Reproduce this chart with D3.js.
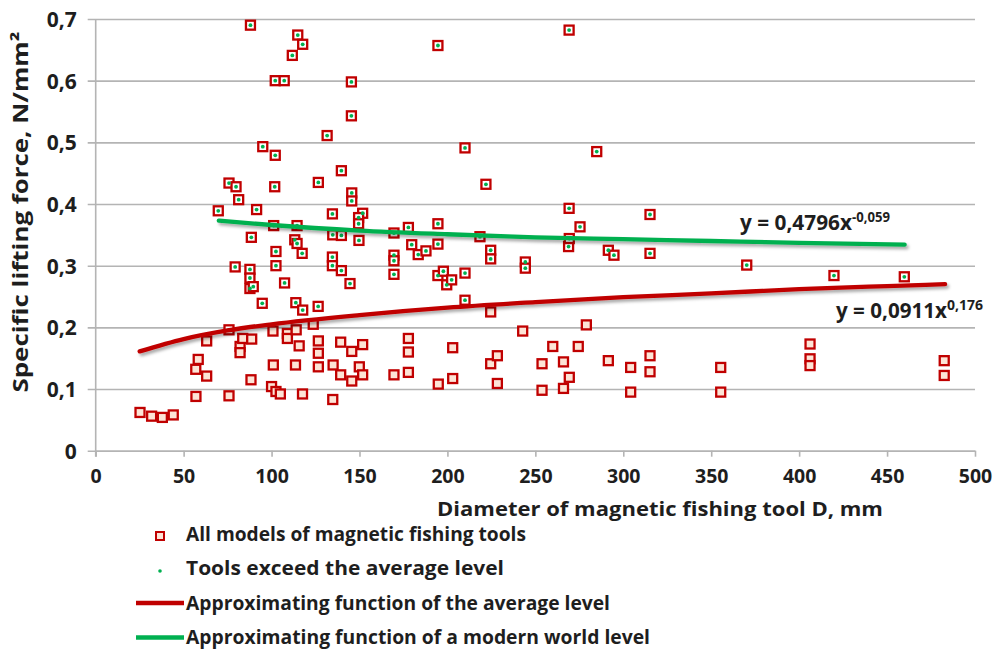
<!DOCTYPE html>
<html>
<head>
<meta charset="utf-8">
<script src="https://cdn.jsdelivr.net/npm/d3@7/dist/d3.min.js"></script>
<style>
  html, body { margin: 0; padding: 0; background: #fff; }
  svg { display: block; font-family: "Open Sans", "Noto Sans", sans-serif; }
  text { fill: #1e1e1e; font-weight: 700; }
</style>
</head>
<body>
<svg id="chart" width="994" height="652"></svg>
<script>
// ---------- data ----------
const xTicks = [0, 50, 100, 150, 200, 250, 300, 350, 400, 450, 500];
const yTicks = [0, 0.1, 0.2, 0.3, 0.4, 0.5, 0.6, 0.7];

// tools whose specific lifting force exceeds the average level (green dot)
const exceedLevel = [
  [88,0.690],[114.9,0.674],[117.7,0.659],[111.8,0.641],[102.1,0.600],[107.2,0.600],
  [145.4,0.598],[145.4,0.543],[131.6,0.511],[95,0.493],[102.1,0.479],[139.7,0.454],
  [75.8,0.434],[79.8,0.428],[101.8,0.428],[126.6,0.435],[81.3,0.407],[145.6,0.418],
  [145.6,0.405],[69.7,0.389],[91.5,0.391],[134.6,0.384],[151.8,0.385],[149.5,0.378],
  [149.5,0.368],[101.2,0.365],[114.5,0.365],[88.5,0.346],[113.2,0.342],[114.5,0.336],
  [117.4,0.320],[134.8,0.350],[139.7,0.349],[149.7,0.341],[102.5,0.323],[102.5,0.300],
  [79.3,0.298],[87.7,0.294],[87.7,0.280],[87.7,0.263],[89.6,0.266],[94.7,0.239],
  [107.4,0.272],[113.8,0.240],[117.7,0.228],[126.5,0.234],[134.6,0.314],[134.6,0.300],
  [139.7,0.292],[144.6,0.271],[75.8,0.196],
  [194.6,0.657],[210,0.491],[221.9,0.432],[269.2,0.682],[269.2,0.393],[194.6,0.368],
  [177.8,0.362],[169.6,0.353],[218.5,0.347],[169.6,0.317],[169.6,0.308],[169.6,0.286],
  [179.7,0.334],[183.4,0.318],[187.8,0.324],[194.6,0.335],[194.6,0.284],[197.7,0.291],
  [199.6,0.269],[202.4,0.277],[210,0.288],[210,0.244],[224.6,0.325],[224.6,0.311],
  [244.3,0.306],[244.3,0.296],[268.9,0.331],[269.3,0.344],[284.9,0.485],[275.4,0.363],
  [315.2,0.383],[291.5,0.325],[294.7,0.317],[315.2,0.320],[370.2,0.301],[419.8,0.284],
  [459.8,0.282]
];

// remaining models (below the average level)
const belowLevel = [
  [25.2,0.062],[31.8,0.056],[37.9,0.054],[44.1,0.058],[57,0.088],[56.9,0.132],
  [58.3,0.148],[63.1,0.121],[63.1,0.178],[75.8,0.089],[82.1,0.169],[82.1,0.159],
  [83.6,0.182],[88.7,0.181],[88.3,0.115],[100.8,0.194],[101,0.139],[100,0.104],
  [102.5,0.096],[105,0.092],[109,0.190],[109,0.182],[114,0.196],[115.7,0.170],
  [113.6,0.139],[117.6,0.092],[123.7,0.205],[126.6,0.178],[126.6,0.158],[126.6,0.136],
  [134.8,0.083],[135,0.139],[139.3,0.176],[145.6,0.161],[151.8,0.172],[139.3,0.123],
  [145.6,0.113],[149.9,0.136],[151.8,0.123],[169.6,0.123],[177.8,0.182],[177.8,0.160],
  [177.8,0.127],[194.8,0.108],[203,0.167],[203,0.117],[224.6,0.225],[224.6,0.141],
  [228.4,0.154],[228.4,0.109],[242.8,0.194],[253.8,0.141],[253.8,0.098],[259.9,0.169],
  [266,0.144],[266,0.101],[269.3,0.119],[274.4,0.169],[279,0.204],[291.5,0.146],
  [304.2,0.135],[304.2,0.095],[315.2,0.154],[315.2,0.128],[355.4,0.135],[355.4,0.095],
  [406.2,0.173],[406.2,0.149],[406.2,0.138],[482.5,0.146],[482.5,0.122]
];

// trend lines
const averageLine = [[25,0.161],[50,0.181],[75,0.195],[100,0.205],[150,0.220],[200,0.232],
  [250,0.241],[300,0.249],[350,0.255],[400,0.262],[450,0.267],[483,0.270]];
const worldLine = [[70,0.373],[100,0.366],[150,0.357],[200,0.351],[250,0.346],[300,0.343],
  [350,0.340],[400,0.337],[460,0.334]];

const legendItems = [
  "All models of magnetic fishing tools",
  "Tools exceed the average level",
  "Approximating function of the average level",
  "Approximating function of a modern world level"
];

// ---------- drawing ----------
const RED = "#c00000", GREEN = "#00b050", GRID = "#b4b4b4";
const svg = d3.select("#chart");
const L = 95.7, R = 975, T = 19, B = 450.7;
const x = d3.scaleLinear().domain([0, 500]).range([L, R]);
const y = d3.scaleLinear().domain([0, 0.7]).range([B, T]);
const loc = d3.formatLocale({decimal: ",", thousands: " ", grouping: [3], currency: ["", ""]});
const fmt = loc.format(".1~f");

const defs = svg.append("defs");
const f = defs.append("filter").attr("id", "sh").attr("x", "-5%").attr("y", "-50%")
  .attr("width", "110%").attr("height", "200%");
f.append("feDropShadow").attr("dx", 2).attr("dy", 2.5).attr("stdDeviation", 1.6)
  .attr("flood-color", "#000").attr("flood-opacity", 0.35);

// y axis with grid
const yAxis = svg.append("g").attr("transform", `translate(${L - 8},0)`)
  .call(d3.axisLeft(y).tickValues(yTicks).tickFormat(fmt).tickSize(-(R - L + 8)).tickPadding(11));
yAxis.select(".domain").remove();
yAxis.selectAll(".tick line").attr("stroke", GRID).attr("stroke-width", 1.6);
yAxis.selectAll(".tick text").attr("font-size", 21).attr("font-family", "Open Sans")
  .attr("font-weight", 700).attr("fill", "#1e1e1e").attr("dy", "0.36em");

// x axis
const xAxis = svg.append("g").attr("transform", `translate(0,${B})`)
  .call(d3.axisBottom(x).tickValues(xTicks).tickFormat(d3.format("d")).tickSize(6).tickSizeOuter(0).tickPadding(12));
xAxis.select(".domain").attr("stroke", GRID).attr("stroke-width", 1.6);
xAxis.selectAll(".tick line").attr("stroke", GRID).attr("stroke-width", 1.6);
xAxis.selectAll(".tick text").attr("font-size", 19.5).attr("font-family", "Open Sans")
  .attr("font-weight", 700).attr("fill", "#1e1e1e");

// vertical axis line
svg.append("line").attr("x1", L).attr("x2", L).attr("y1", T).attr("y2", B + 6)
  .attr("stroke", GRID).attr("stroke-width", 1.6);

// axis titles
svg.append("text").attr("transform", `translate(28,${212}) rotate(-90)`)
  .attr("text-anchor", "middle").attr("font-size", 20.5)
  .attr("textLength", 361).attr("lengthAdjust", "spacingAndGlyphs")
  .text("Specific lifting force, N/mm²");
svg.append("text").attr("x", 437).attr("y", 516).attr("font-size", 20)
  .attr("textLength", 446).attr("lengthAdjust", "spacingAndGlyphs")
  .text("Diameter of magnetic fishing tool D, mm");

// squares (all models)
const S = 9;
svg.append("g").selectAll("rect.b").data(belowLevel).join("rect")
  .attr("x", d => x(d[0]) - S / 2).attr("y", d => y(d[1]) - S / 2)
  .attr("width", S).attr("height", S)
  .attr("fill", "#fde4d6").attr("stroke", RED).attr("stroke-width", 2.3);
svg.append("g").selectAll("rect.e").data(exceedLevel).join("rect")
  .attr("x", d => x(d[0]) - S / 2).attr("y", d => y(d[1]) - S / 2)
  .attr("width", S).attr("height", S)
  .attr("fill", "#ffffff").attr("stroke", RED).attr("stroke-width", 2.3);
svg.append("g").selectAll("circle").data(exceedLevel).join("circle")
  .attr("cx", d => x(d[0])).attr("cy", d => y(d[1])).attr("r", 1.9).attr("fill", GREEN);

// trend lines
const line = d3.line().x(d => x(d[0])).y(d => y(d[1])).curve(d3.curveMonotoneX);
svg.append("path").datum(averageLine).attr("d", line).attr("fill", "none")
  .attr("stroke", RED).attr("stroke-width", 4.3).attr("stroke-linecap", "round").attr("filter", "url(#sh)");
svg.append("path").datum(worldLine).attr("d", line).attr("fill", "none")
  .attr("stroke", GREEN).attr("stroke-width", 4.3).attr("stroke-linecap", "round").attr("filter", "url(#sh)");

// equations
const eq1 = svg.append("text").attr("x", 740).attr("y", 230).attr("font-size", 20.5);
eq1.append("tspan").attr("textLength", 112).attr("lengthAdjust", "spacingAndGlyphs").text("y = 0,4796x");
eq1.append("tspan").attr("font-size", 14).attr("dy", -8.5)
  .attr("textLength", 38).attr("lengthAdjust", "spacingAndGlyphs").text("-0,059");
const eq2 = svg.append("text").attr("x", 836).attr("y", 318).attr("font-size", 20.5);
eq2.append("tspan").attr("textLength", 111).attr("lengthAdjust", "spacingAndGlyphs").text("y = 0,0911x");
eq2.append("tspan").attr("font-size", 14).attr("dy", -8.5)
  .attr("textLength", 36).attr("lengthAdjust", "spacingAndGlyphs").text("0,176");

// legend
const rowY = [541, 575, 609.5, 643.5];
const lg = svg.append("g");
lg.append("rect").attr("x", 160 - 4).attr("y", 536 - 4).attr("width", 8).attr("height", 8)
  .attr("fill", "#fde4d6").attr("stroke", RED).attr("stroke-width", 2);
lg.append("circle").attr("cx", 160).attr("cy", 571).attr("r", 1.8).attr("fill", GREEN);
lg.append("line").attr("x1", 136).attr("x2", 184).attr("y1", 603).attr("y2", 603)
  .attr("stroke", RED).attr("stroke-width", 4.3);
lg.append("line").attr("x1", 136).attr("x2", 184).attr("y1", 637.5).attr("y2", 637.5)
  .attr("stroke", GREEN).attr("stroke-width", 4.3);
const legendLen = [340, 318, 424, 464];
legendItems.forEach((t, i) => {
  lg.append("text").attr("x", 186).attr("y", rowY[i]).attr("font-size", 19)
    .attr("textLength", legendLen[i]).attr("lengthAdjust", "spacingAndGlyphs").text(t);
});
</script>
</body>
</html>
